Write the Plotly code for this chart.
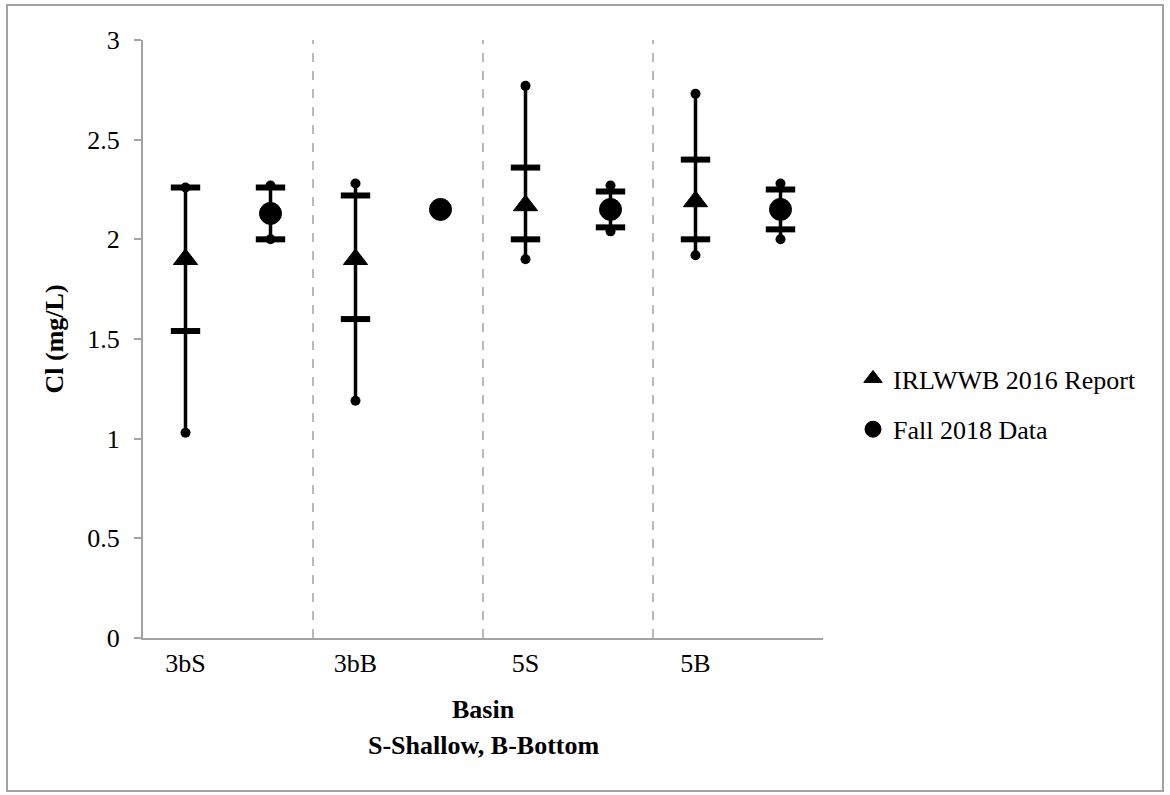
import plotly.graph_objects as go

basins = ["3bS", "3bB", "5S", "5B"]
basin_pos = [1, 3, 5, 7]
x_report = [1, 3, 5, 7]
x_fall = [2, 4, 6, 8]
separators = [2.5, 4.5, 6.5]

report_mean = [1.90, 1.90, 2.17, 2.19]
report_sd_hi = [2.26, 2.22, 2.36, 2.40]
report_sd_lo = [1.54, 1.60, 2.00, 2.00]
report_max = [2.26, 2.28, 2.77, 2.73]
report_min = [1.03, 1.19, 1.90, 1.92]

fall_mean = [2.13, 2.15, 2.15, 2.15]
fall_sd_hi = [2.26, None, 2.24, 2.25]
fall_sd_lo = [2.00, None, 2.06, 2.05]
fall_max = [2.27, None, 2.27, 2.28]
fall_min = [2.00, None, 2.04, 2.00]

FONT = "Liberation Serif, Times New Roman, serif"
FS = 26
AXIS_GRAY = "#a3a3a3"

fig = go.Figure()


def range_line(xs, lo, hi):
    lx, ly = [], []
    for x, a, b in zip(xs, lo, hi):
        if a is None or b is None:
            continue
        lx += [x, x, None]
        ly += [a, b, None]
    return lx, ly


for xs, lo, hi, sdl, sdh, mean, sym, msize, name in [
    (x_report, report_min, report_max, report_sd_lo, report_sd_hi, report_mean,
     "triangle-up", 21, "IRLWWB 2016 Report"),
    (x_fall, fall_min, fall_max, fall_sd_lo, fall_sd_hi, fall_mean,
     "circle", 22, "Fall 2018 Data"),
]:
    lx, ly = range_line(xs, lo, hi)
    fig.add_trace(go.Scatter(x=lx, y=ly, mode="lines",
                             line=dict(color="black", width=3.5),
                             showlegend=False, hoverinfo="skip"))
    # SD caps
    fig.add_trace(go.Scatter(x=xs + xs, y=sdl + sdh, mode="markers",
                             marker=dict(symbol="line-ew", size=21,
                                         line=dict(color="black", width=6)),
                             showlegend=False, hoverinfo="skip"))
    # min / max dots
    fig.add_trace(go.Scatter(x=xs + xs, y=lo + hi, mode="markers",
                             marker=dict(symbol="circle", size=10, color="black"),
                             showlegend=False, hoverinfo="skip"))
    fig.add_trace(go.Scatter(x=xs, y=mean, mode="markers", name=name,
                             legendgroup=name,
                             marker=dict(symbol=sym, size=msize, color="black",
                                         line=dict(color="black", width=1))))

for s in separators:
    fig.add_shape(type="line", x0=s, x1=s, y0=0, y1=3, xref="x", yref="y",
                  line=dict(color=AXIS_GRAY, width=1.5, dash="dash"))

# outer chart border
fig.add_shape(type="rect", xref="paper", yref="paper",
              x0=(7 - 143) / 680, x1=(1163 - 143) / 680,
              y0=(638 - 791) / 598, y1=(638 - 5) / 598,
              line=dict(color=AXIS_GRAY, width=2), layer="below")

fig.add_annotation(text="<b>Cl (mg/L)</b>", xref="paper", yref="paper",
                   x=(37 - 143) / 680, y=0.5, textangle=-90, showarrow=False,
                   font=dict(family=FONT, size=FS, color="black"))
fig.add_annotation(text="<b>Basin</b>", xref="paper", yref="paper",
                   x=0.5, y=(638 - 709) / 598, yanchor="middle", showarrow=False,
                   font=dict(family=FONT, size=FS, color="black"))
fig.add_annotation(text="<b>S-Shallow, B-Bottom</b>", xref="paper", yref="paper",
                   x=0.5, y=(638 - 746) / 598, yanchor="middle", showarrow=False,
                   font=dict(family=FONT, size=FS, color="black"))

fig.update_layout(
    width=1170, height=795,
    margin=dict(l=143, r=347, t=40, b=157),
    paper_bgcolor="white", plot_bgcolor="white",
    font=dict(family=FONT, size=FS, color="black"),
    showlegend=True,
    legend=dict(x=(853 - 143) / 680, y=(638 - 355) / 598, xanchor="left",
                yanchor="top", traceorder="grouped", tracegroupgap=14,
                font=dict(family=FONT, size=FS, color="black"),
                itemsizing="trace", bgcolor="rgba(0,0,0,0)"),
    xaxis=dict(range=[0.5, 8.5], tickvals=basin_pos, ticktext=basins,
               showgrid=False, zeroline=False, showline=True,
               linecolor=AXIS_GRAY, linewidth=2, ticks="",
               ticklabelstandoff=1,
               tickfont=dict(family=FONT, size=FS, color="black")),
    yaxis=dict(range=[0, 3], dtick=0.5, showgrid=False, zeroline=False,
               showline=True, linecolor=AXIS_GRAY, linewidth=2,
               ticks="outside", ticklen=7, tickcolor=AXIS_GRAY, tickwidth=2,
               ticklabelstandoff=9,
               tickfont=dict(family=FONT, size=FS, color="black")),
)

fig.write_html("out.html")
